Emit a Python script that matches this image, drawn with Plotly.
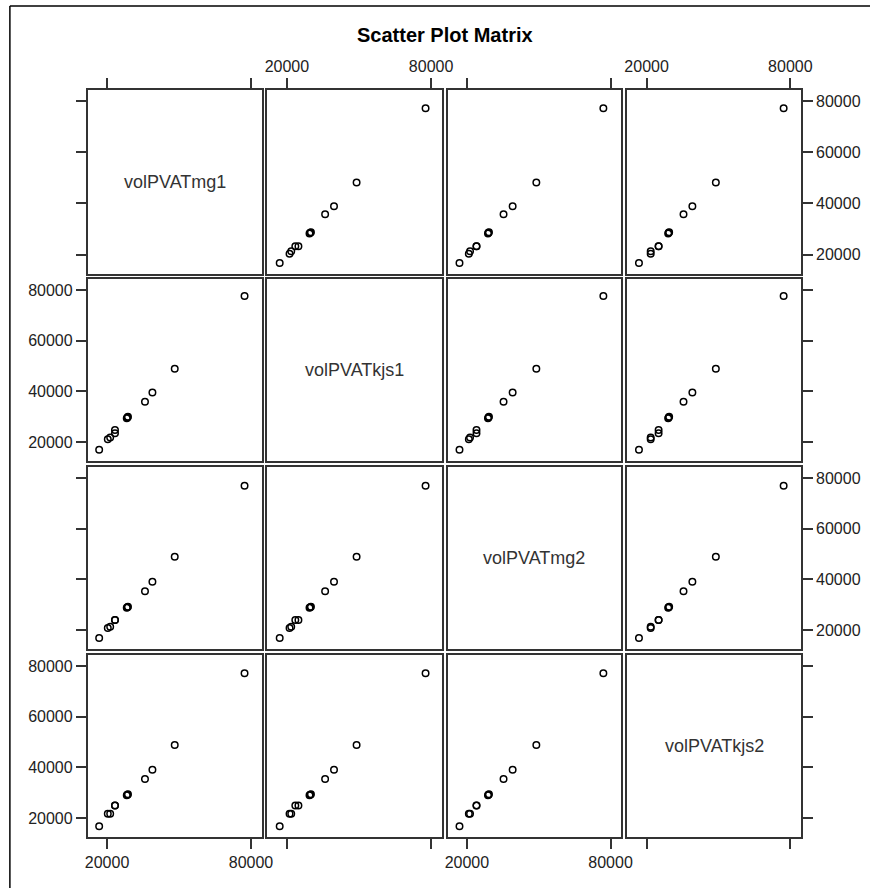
import plotly.graph_objects as go

# ---- data ----
var_names = ["volPVATmg1", "volPVATkjs1", "volPVATmg2", "volPVATkjs2"]
mg1 = [16700, 20300, 21300, 23300, 23300, 28200, 28500, 28700, 35800, 38900, 48200, 77300]
kjs1 = [17000, 21100, 21800, 23500, 24800, 29400, 29700, 30000, 35900, 39600, 49000, 77700]
mg2 = [16900, 20800, 21300, 24000, 24000, 28800, 29000, 29200, 35300, 39100, 49000, 77000]
kjs2 = [16800, 21700, 21700, 25000, 25000, 29000, 29200, 29400, 35400, 39100, 48900, 77200]
x_tickvals = [20000, 80000]
y_tickvals = [20000, 40000, 60000, 80000]
title_text = "Scatter Plot Matrix"

data = [mg1, kjs1, mg2, kjs2]

W, H = 881, 888
col_left = [86, 268.7, 451.7, 634.3]
col_right = [263, 446, 628.3, 811]
row_top = [90, 279, 467, 655]
row_bot = [274, 461.3, 649.3, 837.3]
x_range = [11900, 84500]
y_range = [12400, 84400]

FONT = "Liberation Sans, Arial, sans-serif"
LINE = "#333333"
TXT = "#222222"

fig = go.Figure()
layout = dict(
    width=W, height=H,
    margin=dict(l=0, r=0, t=0, b=0),
    paper_bgcolor="white", plot_bgcolor="white",
    showlegend=False,
    font=dict(family=FONT, size=16, color=TXT),
)

annotations = []
n = 4
for i in range(n):        # row
    for j in range(n):    # col
        k = i * n + j + 1
        xa = "xaxis" if k == 1 else f"xaxis{k}"
        ya = "yaxis" if k == 1 else f"yaxis{k}"
        xr = "x" if k == 1 else f"x{k}"
        yr = "y" if k == 1 else f"y{k}"

        # x axis
        xdict = dict(
            domain=[col_left[j] / W, col_right[j] / W],
            range=x_range, anchor=yr, showgrid=False, zeroline=False,
            showline=True, mirror=True, linecolor=LINE, linewidth=1.5,
            tickvals=x_tickvals, tickformat="d",
            tickfont=dict(family=FONT, size=16, color=TXT),
            fixedrange=True,
        )
        if i == 0:
            xdict.update(side="top", ticks="outside", ticklen=10, tickwidth=1.5,
                         tickcolor=LINE, showticklabels=(j % 2 == 1))
        elif i == n - 1:
            xdict.update(side="bottom", ticks="outside", ticklen=10, tickwidth=1.5,
                         tickcolor=LINE, showticklabels=(j % 2 == 0))
        else:
            xdict.update(ticks="", showticklabels=False)

        # y axis
        ydict = dict(
            domain=[1 - row_bot[i] / H, 1 - row_top[i] / H],
            range=y_range, anchor=xr, showgrid=False, zeroline=False,
            showline=True, mirror=True, linecolor=LINE, linewidth=1.5,
            tickvals=y_tickvals, tickformat="d",
            tickfont=dict(family=FONT, size=16, color=TXT),
            fixedrange=True,
        )
        if j == 0:
            ydict.update(side="left", ticks="outside", ticklen=10, tickwidth=1.5,
                         tickcolor=LINE, showticklabels=(i % 2 == 1))
        elif j == n - 1:
            ydict.update(side="right", ticks="outside", ticklen=10, tickwidth=1.5,
                         tickcolor=LINE, showticklabels=(i % 2 == 0))
        else:
            ydict.update(ticks="", showticklabels=False)

        layout[xa] = xdict
        layout[ya] = ydict

        if i == j:
            # empty trace so that the diagonal subplot (frame + ticks) is drawn
            fig.add_trace(go.Scatter(
                x=[None], y=[None], mode="markers", xaxis=xr, yaxis=yr,
                hoverinfo="skip",
            ))
            annotations.append(dict(
                text=var_names[i], xref=f"{xr} domain", yref=f"{yr} domain",
                x=0.5, y=0.5, showarrow=False,
                font=dict(family=FONT, size=18, color="#333333"),
            ))
        else:
            fig.add_trace(go.Scatter(
                x=data[j], y=data[i], mode="markers", xaxis=xr, yaxis=yr,
                marker=dict(symbol="circle-open", size=6.5, color="black",
                            line=dict(width=1.5, color="black")),
                hoverinfo="skip",
            ))

annotations.append(dict(
    text="<b>" + title_text + "</b>", xref="paper", yref="paper",
    x=449 / W, y=1 - 35 / H, showarrow=False, xanchor="center", yanchor="middle",
    font=dict(family=FONT, size=20, color="black"),
))
layout["annotations"] = annotations
layout["shapes"] = [
    dict(type="line", xref="paper", yref="paper", x0=7 / W, x1=1, y0=1 - 6 / H, y1=1 - 6 / H,
         line=dict(color="black", width=1.5)),
    dict(type="line", xref="paper", yref="paper", x0=7 / W, x1=7 / W, y0=0, y1=1 - 6 / H,
         line=dict(color="black", width=1.5)),
]
fig.update_layout(**layout)
fig.write_html("out.html")
